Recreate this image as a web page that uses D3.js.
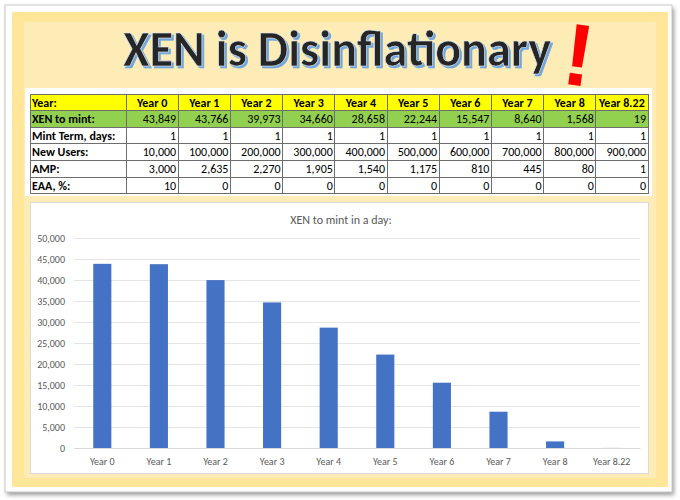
<!DOCTYPE html>
<html>
<head>
<meta charset="utf-8">
<script src="https://cdn.jsdelivr.net/npm/d3@7"></script>
<style>
  html, body { margin: 0; padding: 0; background: #ffffff; }
  svg { display: block; }
</style>
</head>
<body>
<div id="chart"></div>
<script>
// Table / chart data
const years = ["Year 0", "Year 1", "Year 2", "Year 3", "Year 4", "Year 5", "Year 6", "Year 7", "Year 8", "Year 8.22"];
const xenToMint = [43849, 43766, 39973, 34660, 28658, 22244, 15547, 8640, 1568, 19];
const mintTerm = [1, 1, 1, 1, 1, 1, 1, 1, 1, 1];
const newUsers = [10000, 100000, 200000, 300000, 400000, 500000, 600000, 700000, 800000, 900000];
const amp = [3000, 2635, 2270, 1905, 1540, 1175, 810, 445, 80, 1];
const eaa = [10, 0, 0, 0, 0, 0, 0, 0, 0, 0];
const yTicks = [0, 5000, 10000, 15000, 20000, 25000, 30000, 35000, 40000, 45000, 50000];

const rowLabels = ["Year:", "XEN to mint:", "Mint Term, days:", "New Users:", "AMP:", "EAA, %:"];

const W = 680, H = 500;
const FONT = "Carlito, Lato, 'Liberation Sans', sans-serif";
const fmt = d3.format(",");

const svg = d3.select("#chart").append("svg")
  .attr("width", W)
  .attr("height", H);

const defs = svg.append("defs");
const blur = defs.append("filter").attr("id", "shadow")
  .attr("x", "-5%").attr("y", "-5%").attr("width", "110%").attr("height", "110%");
blur.append("feGaussianBlur").attr("stdDeviation", 2);

// blue drop shadow for the title
const ts = defs.append("filter").attr("id", "titleShadow")
  .attr("x", "-5%").attr("y", "-20%").attr("width", "110%").attr("height", "140%");
ts.append("feFlood").attr("flood-color", "#6fa6dc").attr("result", "flood");
ts.append("feComposite").attr("in", "flood").attr("in2", "SourceAlpha")
  .attr("operator", "in").attr("result", "blue");
ts.append("feOffset").attr("in", "blue").attr("dx", 2).attr("dy", 2).attr("result", "off");
const merge = ts.append("feMerge");
merge.append("feMergeNode").attr("in", "off");
merge.append("feMergeNode").attr("in", "SourceGraphic");

// Frame: shadow, white mat, yellow panel
svg.append("rect")
  .attr("x", 7).attr("y", 8).attr("width", 667).attr("height", 487)
  .attr("fill", "#9a9a9a").attr("filter", "url(#shadow)");
svg.append("rect")
  .attr("x", 5).attr("y", 5).attr("width", 667).attr("height", 487)
  .attr("fill", "#ffffff").attr("stroke", "#c8c8c8");
svg.append("rect")
  .attr("x", 12).attr("y", 12).attr("width", 656).attr("height", 475)
  .attr("fill", "#ffe699");
svg.append("rect")
  .attr("x", 24).attr("y", 22).attr("width", 632).attr("height", 456)
  .attr("fill", "#feecb6");

// Title
svg.append("text")
  .attr("x", 123).attr("y", 66)
  .attr("font-family", FONT)
  .attr("font-weight", "bold")
  .attr("font-size", 50)
  .attr("textLength", 428).attr("lengthAdjust", "spacingAndGlyphs")
  .attr("fill", "#262626")
  .attr("stroke", "#d9e6f4").attr("stroke-width", 0.6)
  .attr("filter", "url(#titleShadow)")
  .text("XEN is Disinflationary");
svg.append("text")
  .attr("transform", "translate(560,83) rotate(8)")
  .attr("font-family", "'Liberation Sans', sans-serif")
  .attr("font-weight", "bold")
  .attr("font-size", 88)
  .attr("fill", "#ff0000")
  .text("!");

// ---- Table ----
const tableLeft = 30, labelRight = 126, tableRight = 648;
const tableTop = 94, rowH = 16.6;

svg.append("rect")
  .attr("x", 25).attr("y", 88).attr("width", 627).attr("height", 108)
  .attr("fill", "#ffffff");

const colX = d3.scaleBand()
  .domain(years)
  .range([labelRight, tableRight]);

const rowY = d3.scaleBand()
  .domain(rowLabels)
  .range([tableTop, tableTop + rowH * rowLabels.length]);

const rowValues = [years, xenToMint, mintTerm, newUsers, amp, eaa];
const rowFill = ["#ffff00", "#92d050", "#ffffff", "#ffffff", "#ffffff", "#ffffff"];

const table = svg.append("g")
  .attr("font-family", FONT)
  .attr("font-size", 12);

rowLabels.forEach((label, i) => {
  const y = rowY(label);
  const row = table.append("g");
  row.append("rect")
    .attr("x", tableLeft).attr("y", y)
    .attr("width", tableRight - tableLeft).attr("height", rowY.bandwidth())
    .attr("fill", rowFill[i]);
  row.append("text")
    .attr("x", tableLeft + 2).attr("y", y + rowY.bandwidth() / 2)
    .attr("dy", "0.35em")
    .attr("font-weight", "bold")
    .text(label);
  row.selectAll("text.val")
    .data(rowValues[i])
    .join("text")
    .attr("class", "val")
    .attr("x", (d, j) => i === 0 ? colX(years[j]) + colX.bandwidth() / 2 : colX(years[j]) + colX.bandwidth() - 2)
    .attr("y", y + rowY.bandwidth() / 2)
    .attr("dy", "0.35em")
    .attr("text-anchor", i === 0 ? "middle" : "end")
    .attr("font-weight", i === 0 ? "bold" : "normal")
    .text(d => i === 0 ? d : fmt(d));
});

// Grid lines of the table
const tableBottom = tableTop + rowH * rowLabels.length;
const lines = table.append("g")
  .attr("stroke", "#6d6d6d")
  .attr("stroke-width", 1)
  .attr("shape-rendering", "crispEdges");
lines.selectAll("line.h")
  .data(d3.range(rowLabels.length + 1))
  .join("line")
  .attr("x1", tableLeft).attr("x2", tableRight)
  .attr("y1", d => tableTop + d * rowH)
  .attr("y2", d => tableTop + d * rowH);
lines.selectAll("line.v")
  .data([tableLeft, labelRight].concat(years.map(y => colX(y) + colX.bandwidth())))
  .join("line")
  .attr("x1", d => d).attr("x2", d => d)
  .attr("y1", tableTop).attr("y2", tableBottom);

// ---- Bar chart ----
svg.append("rect")
  .attr("x", 30.5).attr("y", 202.5).attr("width", 618).attr("height", 271)
  .attr("fill", "#ffffff")
  .attr("stroke", "#d9d9d9");

const x = d3.scaleBand()
  .domain(years)
  .range([74, 640])
  .paddingInner(0.68)
  .paddingOuter(0.34);

const y = d3.scaleLinear()
  .domain([0, 50000])
  .range([448, 238]);

const chart = svg.append("g")
  .attr("font-family", FONT);

chart.append("text")
  .attr("x", 341).attr("y", 224)
  .attr("text-anchor", "middle")
  .attr("font-size", 12)
  .attr("fill", "#595959")
  .text("XEN to mint in a day:");

// Y axis with gridlines
const yAxis = chart.append("g")
  .attr("transform", "translate(74,0)")
  .call(d3.axisLeft(y)
    .tickValues(yTicks)
    .tickSize(-566)
    .tickPadding(9)
    .tickFormat(fmt));
yAxis.select(".domain").remove();
yAxis.selectAll(".tick line").attr("stroke", "#e5e5e5");
yAxis.selectAll(".tick text")
  .attr("font-family", FONT)
  .attr("font-size", 10)
  .attr("fill", "#595959");

// X axis
const xAxis = chart.append("g")
  .attr("transform", "translate(0,448)")
  .call(d3.axisBottom(x).tickSize(0).tickPadding(10));
xAxis.select(".domain").attr("stroke", "#d9d9d9");
xAxis.selectAll(".tick text")
  .attr("font-family", FONT)
  .attr("font-size", 10)
  .attr("fill", "#595959");

// Bars
chart.append("g")
  .selectAll("rect")
  .data(xenToMint)
  .join("rect")
  .attr("x", (d, i) => x(years[i]))
  .attr("y", d => y(d))
  .attr("width", x.bandwidth())
  .attr("height", d => y(0) - y(d))
  .attr("fill", "#4472c4");
</script>
</body>
</html>
